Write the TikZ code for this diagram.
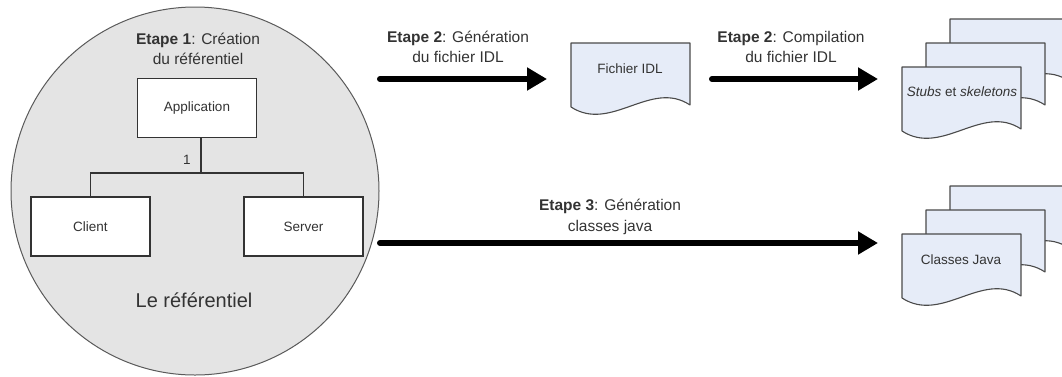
\documentclass[tikz,border=0pt]{standalone}
\usepackage{fontspec}
\setmainfont{Liberation Sans}
\usetikzlibrary{arrows.meta}
\definecolor{circfill}{HTML}{E4E4E4}
\definecolor{circline}{HTML}{5A5A5A}
\definecolor{docfill}{HTML}{E6ECF8}
\definecolor{docline}{HTML}{4A4A4A}
\definecolor{boxline}{HTML}{333333}
\definecolor{txt}{HTML}{333333}
\begin{document}
\begin{tikzpicture}[x=1pt,y=-1pt,
  box/.style={draw=boxline, line width=1.3pt, fill=white, minimum width=119pt, minimum height=59pt, inner sep=0pt, text=txt, font=\fontsize{13.5}{16}\selectfont},
  tree/.style={draw=boxline, line width=1.8pt},
  steplabel/.style={align=center, inner sep=0pt, text=txt, font=\fontsize{15.5}{20.5}\selectfont},
  doctext/.style={inner sep=0pt, text=txt, font=\fontsize{13.5}{16}\selectfont},
  bigarrow/.style={draw=black, line width=6pt, line cap=round, -{Triangle[length=20pt,width=22pt]}},
  docpic/.pic={\path[draw=docline, line width=1.1pt, fill=docfill, line join=round]
     (0,0) -- (119,0) -- (119,62) .. controls (80,36) and (40,90) .. (0,64) -- cycle;}
]
\useasboundingbox (0,0) rectangle (1062,376);
\clip (0,0) rectangle (1062,376);

% repository circle
\path[fill=circfill, draw=circline, line width=1pt] (195,191) circle[radius=184];
\node[steplabel] (l1) at (198,49) {\textbf{Etape 1}: Création\\du référentiel};
\node[box] (app) at (197,108) {Application};
\node[box] (client) at (90.5,226.5) {Client};
\node[box] (server) at (303.5,226.5) {Server};
\coordinate (j) at (201,173);
\draw[tree] (j |- app.south) -- (j);
\draw[tree] (client.north) |- (j) -| (server.north);
\node[doctext] (one) at (187,160) {1};
\node[inner sep=0pt, text=txt, font=\fontsize{20}{24}\selectfont] (ref) at (194,300) {Le référentiel};

% arrows
\coordinate (s1) at (380,79); \coordinate (e1) at (547,79);
\coordinate (s2) at (712,79); \coordinate (e2) at (878,79);
\coordinate (s3) at (380,243); \coordinate (e3) at (878,243);
\draw[bigarrow] (s1) -- (e1);
\draw[bigarrow] (s2) -- (e2);
\draw[bigarrow] (s3) -- (e3);
\node[steplabel] (l2) at (458,47) {\textbf{Etape 2}: Génération\\du fichier IDL};
\node[steplabel] (l3) at (791,47) {\textbf{Etape 2}: Compilation\\du fichier IDL};
\node[steplabel] (l4) at (610,217) {\textbf{Etape 3}: Génération\\classes java};

% documents
\pic at (571,43) {docpic};
\node[doctext] (idl) at (630,69) {Fichier IDL};

\pic at (950,19) {docpic};
\pic at (926,43) {docpic};
\pic at (902,67) {docpic};
\node[doctext] (stubs) at (962,92) {\textit{Stubs} et \textit{skeletons}};

\pic at (950,186) {docpic};
\pic at (926,210) {docpic};
\pic at (902,234) {docpic};
\node[doctext] (classes) at (961,260) {Classes Java};
\end{tikzpicture}
\end{document}
